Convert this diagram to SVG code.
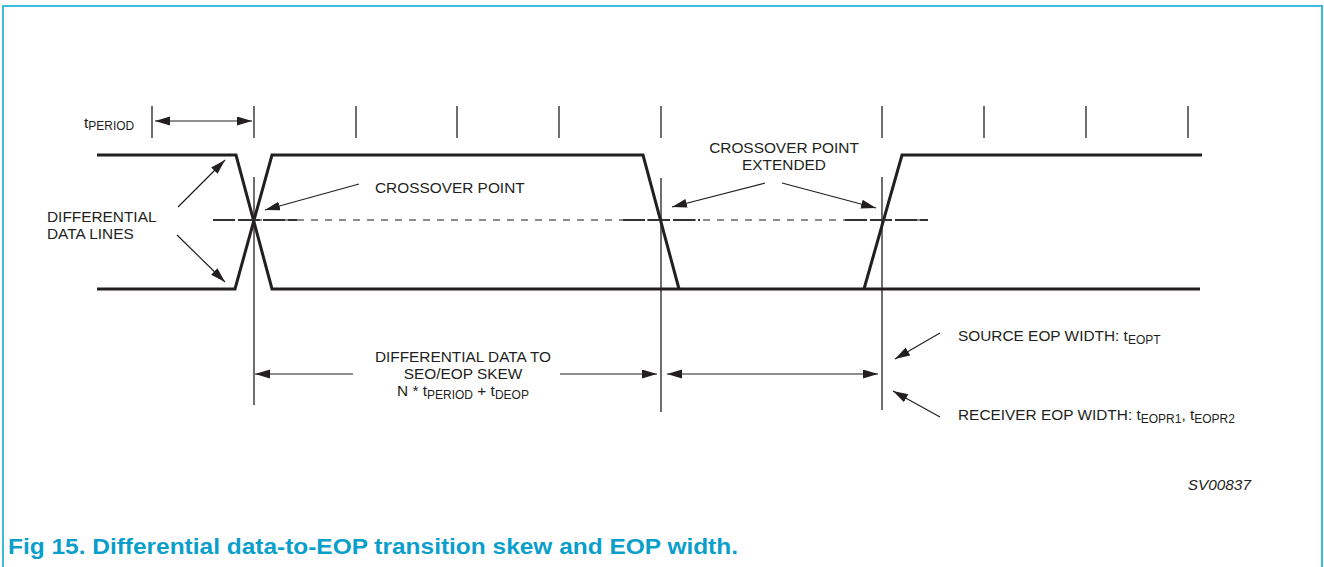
<svg xmlns="http://www.w3.org/2000/svg" width="1324" height="567" viewBox="0 0 1324 567">
<style>
.txt{font-family:"Liberation Sans",Arial,sans-serif;font-size:15.4px;fill:#231f20}
.sub{font-size:12px}
.sig{fill:none;stroke:#231f20;stroke-width:3;stroke-linejoin:miter}
.thin{stroke:#231f20;stroke-width:1.3;fill:none}
.arr{stroke:#231f20;stroke-width:1.2;fill:none}
.dash{stroke:#666;stroke-width:1.4;stroke-dasharray:7 7;fill:none}
.dk{stroke:#333;stroke-width:1.8;stroke-dasharray:22 3;fill:none}
</style>
<defs>
<marker id="ah" markerUnits="userSpaceOnUse" markerWidth="16" markerHeight="10" refX="15" refY="4.5" orient="auto-start-reverse" viewBox="0 0 16 10">
<path d="M0,0 L15,4.5 L0,9 z" fill="#231f20"/>
</marker>
</defs>
<rect x="3" y="6" width="1319" height="600" fill="#fff" stroke="#3dbbdd" stroke-width="2"/>

<g id="ticks">
<line class="thin" x1="152" y1="106" x2="152" y2="138"/>
<line class="thin" x1="254" y1="106" x2="254" y2="138"/>
<line class="thin" x1="356" y1="106" x2="356" y2="138"/>
<line class="thin" x1="457" y1="106" x2="457" y2="138"/>
<line class="thin" x1="559" y1="106" x2="559" y2="138"/>
<line class="thin" x1="661" y1="106" x2="661" y2="138"/>
<line class="thin" x1="882" y1="106" x2="882" y2="138"/>
<line class="thin" x1="984" y1="106" x2="984" y2="138"/>
<line class="thin" x1="1086" y1="106" x2="1086" y2="138"/>
<line class="thin" x1="1188" y1="106" x2="1188" y2="138"/>
</g>

<g id="signals">
<polyline class="sig" points="97,155 236,155 272,289 1200,289"/>
<polyline class="sig" points="97,289 235,289 272,155 643,155 679,289"/>
<polyline class="sig" points="864,289 902,155 1202,155"/>
</g>

<g id="crosslines">
<line class="dash" x1="213" y1="220" x2="928" y2="220"/>
<line class="dk" x1="213" y1="220" x2="297" y2="220"/>
<line class="dk" x1="623" y1="220" x2="700" y2="220"/>
<line class="dk" x1="845" y1="220" x2="928" y2="220"/>
<line class="thin" x1="254" y1="177" x2="254" y2="405"/>
<line class="thin" x1="661" y1="178" x2="661" y2="412"/>
<line class="thin" x1="882" y1="177" x2="882" y2="410"/>
</g>

<g id="connectors">
<line class="arr" x1="155" y1="121" x2="252" y2="121" marker-start="url(#ah)" marker-end="url(#ah)"/>
<line class="arr" x1="178" y1="207" x2="225" y2="160" marker-end="url(#ah)"/>
<line class="arr" x1="177" y1="235" x2="225" y2="282" marker-end="url(#ah)"/>
<line class="arr" x1="359" y1="184" x2="265" y2="210" marker-end="url(#ah)"/>
<line class="arr" x1="765" y1="183" x2="672" y2="207" marker-end="url(#ah)"/>
<line class="arr" x1="782" y1="183" x2="876" y2="208" marker-end="url(#ah)"/>
<line class="arr" x1="255" y1="374" x2="353" y2="374" marker-start="url(#ah)"/>
<line class="arr" x1="560" y1="374" x2="657" y2="374" marker-end="url(#ah)"/>
<line class="arr" x1="667" y1="374" x2="878" y2="374" marker-start="url(#ah)" marker-end="url(#ah)"/>
<line class="arr" x1="940" y1="333" x2="895" y2="359" marker-end="url(#ah)"/>
<line class="arr" x1="940" y1="417" x2="893" y2="391" marker-end="url(#ah)"/>
</g>

<g id="label-tperiod">
<text class="txt" x="84" y="128">t<tspan class="sub" dy="2">PERIOD</tspan></text>
</g>
<g id="label-diff">
<text class="txt" x="47" y="222">DIFFERENTIAL</text>
<text class="txt" x="47" y="239">DATA LINES</text>
</g>
<g id="label-crossover">
<text class="txt" x="375" y="193">CROSSOVER POINT</text>
</g>
<g id="label-extended">
<text class="txt" x="784" y="153" text-anchor="middle">CROSSOVER POINT</text>
<text class="txt" x="784" y="169.5" text-anchor="middle">EXTENDED</text>
</g>
<g id="label-skew">
<text class="txt" x="463" y="362" text-anchor="middle">DIFFERENTIAL DATA TO</text>
<text class="txt" x="463" y="379" text-anchor="middle">SEO/EOP SKEW</text>
<text class="txt" x="463" y="396" text-anchor="middle">N * t<tspan class="sub" dy="3">PERIOD</tspan><tspan dy="-3"> + t</tspan><tspan class="sub" dy="3">DEOP</tspan></text>
</g>
<g id="label-source">
<text class="txt" x="958" y="341">SOURCE EOP WIDTH: t<tspan class="sub" dy="3">EOPT</tspan></text>
</g>
<g id="label-receiver">
<text class="txt" x="958" y="420">RECEIVER EOP WIDTH: t<tspan class="sub" dy="3">EOPR1</tspan><tspan dy="-3">, t</tspan><tspan class="sub" dy="3">EOPR2</tspan></text>
</g>
<text class="txt" x="1251" y="490" text-anchor="end" font-style="italic" font-size="14.5">SV00837</text>
<text x="8" y="554" font-family="'Liberation Sans',Arial,sans-serif" font-weight="bold" font-size="22" fill="#0a9fcb" textLength="730" lengthAdjust="spacingAndGlyphs">Fig 15.  Differential data-to-EOP transition skew and EOP width.</text>
</svg>
